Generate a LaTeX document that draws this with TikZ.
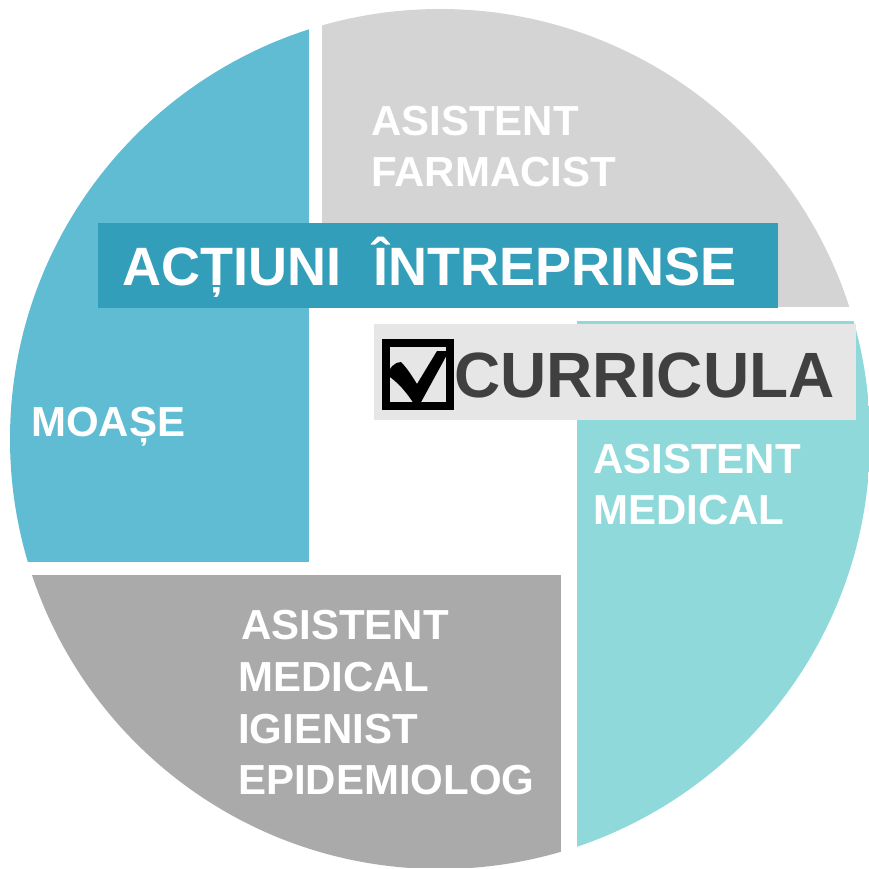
\documentclass[tikz,border=0pt]{standalone}
\usepackage{fontspec}
\setmainfont{Liberation Sans}
\definecolor{cBlue}{HTML}{5FBCD3}
\definecolor{cLight}{HTML}{D4D4D4}
\definecolor{cTeal}{HTML}{8FD9DB}
\definecolor{cDark}{HTML}{AAAAAA}
\definecolor{cBanner}{HTML}{339EB9}
\definecolor{cBox}{HTML}{E6E6E6}
\definecolor{cText}{HTML}{404040}
\tikzset{
  lbl/.style={anchor=base west, inner sep=0pt, text=white, font=\fontsize{42}{50}\selectfont\bfseries},
  bannertxt/.style={anchor=base west, inner sep=0pt, text=white, font=\fontsize{54}{60}\selectfont\bfseries},
  curtxt/.style={anchor=base west, inner sep=0pt, text=cText, font=\fontsize{64}{70}\selectfont\bfseries}
}
\begin{document}
\begin{tikzpicture}[x=1pt,y=-1pt]
\useasboundingbox (0,0) rectangle (869,868);
% pinwheel pieces clipped by the circle
\begin{scope}
  \clip (440,439) circle (430pt);
  \fill[cBlue] (0,0) rectangle (309,562);
  \fill[cLight] (322,0) rectangle (869,307);
  \fill[cTeal] (577,321) rectangle (869,868);
  \fill[cDark] (0,575) rectangle (561,868);
\end{scope}
% banner
\fill[cBanner] (98,223) rectangle (778,308);
\node[bannertxt] (act) at (122,285) {ACȚIUNI};
\node[bannertxt] (intr) at (373,285) {ÎNTREPRINSE};
% curricula box
\fill[cBox] (374,324) rectangle (856,420);
\draw[black, line width=8pt] (386,343) rectangle (450,406);
\fill[black] (387,375) .. controls (390,367) and (395,362) .. (401,362)
  .. controls (407,368) and (412,376) .. (417,384)
  -- (437,351) -- (449,351) -- (420,404) -- (414,404)
  .. controls (407,393) and (398,382) .. cycle;
\node[curtxt] (cur) at (454,397) {CURRICULA};
% labels
\node[lbl] (f1) at (371,135) {ASISTENT};
\node[lbl] (f2) at (371,186) {FARMACIST};
\node[lbl] (m1) at (31,436) {MOAȘE};
\node[lbl] (t1) at (593,473) {ASISTENT};
\node[lbl] (t2) at (593,524) {MEDICAL};
\node[lbl] (b1) at (241,639) {ASISTENT};
\node[lbl] (b2) at (238,691) {MEDICAL};
\node[lbl] (b3) at (238,743) {IGIENIST};
\node[lbl] (b4) at (238,794) {EPIDEMIOLOG};
\end{tikzpicture}
\end{document}
